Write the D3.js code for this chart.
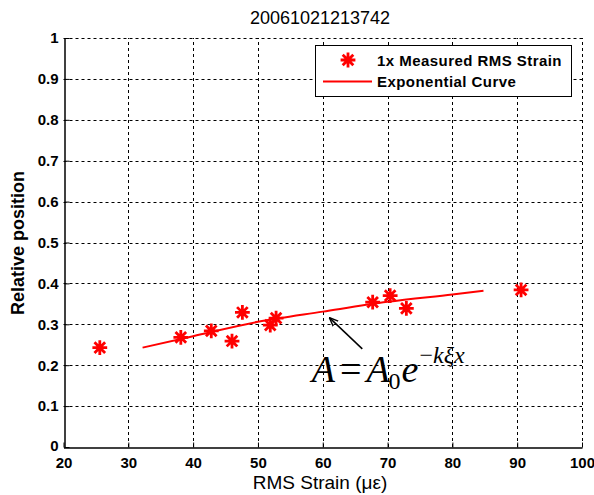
<!DOCTYPE html>
<html><head><meta charset="utf-8">
<script src="https://cdn.jsdelivr.net/npm/d3@7"></script>
<style>body{margin:0;background:#fff}</style>
</head><body>
<script>
const title = "20061021213742";
const xTicks = [20,30,40,50,60,70,80,90,100];
const yTicks = [0,0.1,0.2,0.3,0.4,0.5,0.6,0.7,0.8,0.9,1];
const yTickLabels = ["0","0.1","0.2","0.3","0.4","0.5","0.6","0.7","0.8","0.9","1"];
const measuredX = [25.6,38.1,42.8,46.0,47.6,51.9,52.8,67.7,70.4,72.9,90.6];
const measuredY = [0.243,0.268,0.284,0.259,0.329,0.298,0.315,0.354,0.370,0.339,0.384];
const curveX = [32.2,40,50,60,70,80,84.8];
const curveY = [0.243,0.271,0.306,0.331,0.355,0.373,0.382];
const arrowFrom = [66.1,0.24];
const arrowTo = [61.1,0.315];
const eqPos = [58.3,0.158];
const legendLabels = ["1x Measured RMS Strain","Exponential Curve"];
const xLabel = "RMS Strain (με)";
const yLabel = "Relative position";

const W=594,H=495;
const svg=d3.select("body").append("svg").attr("width",W).attr("height",H);
const x=d3.scaleLinear().domain([20,100]).range([63.5,582]);
const y=d3.scaleLinear().domain([0,1]).range([447,38]);
const red="#ff0000";
const font="'Liberation Sans', Arial, Helvetica, sans-serif";

// grid
const g=svg.append("g");
g.selectAll(".vg").data(xTicks.slice(1)).join("line")
 .attr("x1",d=>Math.round(x(d))+0.5).attr("x2",d=>Math.round(x(d))+0.5)
 .attr("y1",y(0)).attr("y2",y(1)).attr("stroke","#000").attr("stroke-width",1).attr("stroke-dasharray","3,3");
g.selectAll(".hg").data(yTicks.slice(1)).join("line")
 .attr("y1",d=>Math.round(y(d))+0.5).attr("y2",d=>Math.round(y(d))+0.5)
 .attr("x1",x(20)).attr("x2",x(100)).attr("stroke","#000").attr("stroke-width",1).attr("stroke-dasharray","3,3");

// axes
const xa=svg.append("g").attr("transform",`translate(0,${Math.round(y(0))+0.5})`)
 .call(d3.axisBottom(x).tickValues(xTicks).tickSize(-5).tickPadding(10).tickSizeOuter(0));
const ya=svg.append("g").attr("transform",`translate(${Math.round(x(20))+0.5},0)`)
 .call(d3.axisLeft(y).tickValues(yTicks).tickFormat((d,i)=>yTickLabels[i]).tickSize(-5).tickPadding(6).tickSizeOuter(0));
[xa,ya].forEach(a=>{
 a.selectAll("path").attr("stroke","#000").attr("stroke-width",1.5);
 a.selectAll("line").attr("stroke","#000");
 a.selectAll("text").attr("font-family",font).attr("font-weight","bold").attr("font-size",15).attr("fill","#000");
});
ya.selectAll("text").filter(d=>d===0).attr("dy","0.2em");

// curve
const line=d3.line().x((d,i)=>x(curveX[i])).y((d,i)=>y(curveY[i])).curve(d3.curveMonotoneX);
svg.append("path").datum(curveX).attr("d",line).attr("fill","none").attr("stroke",red).attr("stroke-width",2);

// markers
function star(sel,r){
 const a=r*0.72;
 sel.append("path").attr("d",`M${-r},0L${r},0M0,${-r}L0,${r}M${-a},${-a}L${a},${a}M${-a},${a}L${a},${-a}`)
  .attr("stroke",red).attr("stroke-width",2.8).attr("stroke-linecap","square");
}
svg.selectAll(".m").data(measuredX).join("g")
 .attr("transform",(d,i)=>`translate(${x(d)},${y(measuredY[i])})`)
 .each(function(){star(d3.select(this),6);});

// arrow
svg.append("defs").append("marker").attr("id","ah").attr("viewBox","0 0 10 10").attr("refX",9).attr("refY",5)
 .attr("markerWidth",9).attr("markerHeight",9).attr("orient","auto-start-reverse").attr("markerUnits","userSpaceOnUse")
 .append("path").attr("d","M0,1L10,5L0,9").attr("fill","none").attr("stroke","#000").attr("stroke-width",1.5);
svg.append("line").attr("x1",x(arrowFrom[0])).attr("y1",y(arrowFrom[1])).attr("x2",x(arrowTo[0])).attr("y2",y(arrowTo[1]))
 .attr("stroke","#000").attr("stroke-width",1.5).attr("marker-end","url(#ah)");

// equation
const eq=svg.append("text").attr("x",x(eqPos[0])).attr("y",y(eqPos[1]))
 .attr("font-family","'Liberation Serif','Times New Roman',serif").attr("font-size",38).attr("fill","#000");
eq.append("tspan").attr("font-style","italic").text("A");
eq.append("tspan").attr("dx",5).text("=");
eq.append("tspan").attr("dx",5).attr("font-style","italic").text("A");
eq.append("tspan").attr("font-size",24).attr("dx",-1).attr("dy",7).text("0");
eq.append("tspan").attr("font-style","italic").attr("dx",1).attr("dy",-7).text("e");
eq.append("tspan").attr("font-size",24).attr("dx",1).attr("dy",-19).text("−");
eq.append("tspan").attr("font-size",24).attr("font-style","italic").text("kξx");

// legend
const lg=svg.append("g");
lg.append("rect").attr("x",315.5).attr("y",45.5).attr("width",256).attr("height",51).attr("fill","#fff").attr("stroke","#000").attr("stroke-width",1);
const lm=lg.append("g").attr("transform","translate(348,60)"); star(lm,6);
lg.append("line").attr("x1",323).attr("x2",372).attr("y1",81.5).attr("y2",81.5).attr("stroke",red).attr("stroke-width",2);
lg.selectAll(".lt").data(legendLabels).join("text").attr("x",377).attr("y",(d,i)=>i?87:65.5)
 .attr("font-family",font).attr("font-weight","bold").attr("font-size",15).attr("letter-spacing",0.45).attr("fill","#000").text(d=>d);

// title & labels
svg.append("text").attr("x",320).attr("y",24).attr("text-anchor","middle").attr("font-family",font).attr("font-size",18).text(title);
svg.append("text").attr("x",320).attr("y",489).attr("text-anchor","middle").attr("font-family",font).attr("font-size",19).text(xLabel);
svg.append("text").attr("transform","translate(24,243) rotate(-90)").attr("text-anchor","middle").attr("font-family",font).attr("font-weight","bold").attr("font-size",18).text(yLabel);
</script>
</body></html>
